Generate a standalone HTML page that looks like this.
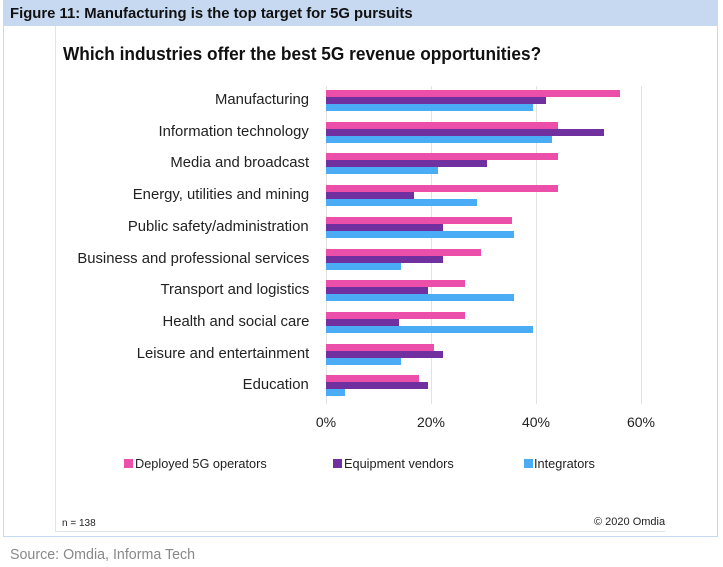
<!DOCTYPE html><html><head><style>
body{margin:0;width:723px;height:567px;background:#fff;font-family:"Liberation Sans",sans-serif;position:relative;overflow:hidden}
.a{position:absolute}
.lbl{position:absolute;right:414px;font-size:15px;color:#222;white-space:nowrap;transform:scaleX(0.99);transform-origin:right}
.b{position:absolute;left:326px;height:7px}
.p{background:#EC4FA9}.u{background:#7030A0}.c{background:#4BACF6}
.g{position:absolute;top:86px;height:318px;width:1px;background:#e2e2e2}
.t{position:absolute;top:414px;font-size:14px;color:#222;width:60px;text-align:center}
</style></head><body>
<div class="a" style="left:3px;top:0;width:715px;height:537px;border:1px solid #c5d9f1;border-top:none;box-sizing:border-box"></div>
<div class="a" style="left:3px;top:0;width:715px;height:26px;background:#c6d9f1"></div>
<div class="a" style="left:10px;top:5px;font-size:15px;font-weight:bold;color:#111;transform:scaleX(0.99);transform-origin:left">Figure 11: Manufacturing is the top target for 5G pursuits</div>
<div class="a" style="left:55px;top:26px;width:1px;height:506px;background:#dde6f0"></div>
<div class="a" style="left:55px;top:531px;width:610px;height:1px;background:#dde6f0"></div>
<div class="a" style="left:63px;top:44px;font-size:18px;font-weight:bold;color:#111;transform:scaleX(0.96);transform-origin:left">Which industries offer the best 5G revenue opportunities?</div>
<div class="g" style="left:326px"></div><div class="g" style="left:431px"></div><div class="g" style="left:536px"></div><div class="g" style="left:641px"></div>
<div class="t" style="left:296px">0%</div><div class="t" style="left:401px">20%</div><div class="t" style="left:506px">40%</div><div class="t" style="left:611px">60%</div>
<div id="bars"></div>
<script>
var d=[["Manufacturing",620,546,533],["Information technology",558,604,552],["Media and broadcast",558,487,438],["Energy, utilities and mining",558,414,477],["Public safety/administration",512,443,514],["Business and professional services",481,443,401],["Transport and logistics",465,428,514],["Health and social care",465,399,533],["Leisure and entertainment",434,443,401],["Education",419,428,345]];
var h="";d.forEach(function(r,i){var y=90+i*31.7;
h+='<div class="lbl" style="top:'+(y+1)+'px">'+r[0]+'</div>';
h+='<div class="b p" style="top:'+y+'px;width:'+(r[1]-326)+'px"></div>';
h+='<div class="b u" style="top:'+(y+7)+'px;width:'+(r[2]-326)+'px"></div>';
h+='<div class="b c" style="top:'+(y+14)+'px;width:'+(r[3]-326)+'px"></div>';});
document.getElementById("bars").innerHTML=h;
</script>
<div class="a" style="left:124px;top:459px;width:9px;height:9px;background:#EC4FA9"></div>
<div class="a" style="left:135px;top:456px;font-size:13px;color:#222;transform:scaleX(0.98);transform-origin:left">Deployed 5G operators</div>
<div class="a" style="left:333px;top:459px;width:9px;height:9px;background:#7030A0"></div>
<div class="a" style="left:344px;top:456px;font-size:13px;color:#222;transform:scaleX(0.98);transform-origin:left">Equipment vendors</div>
<div class="a" style="left:524px;top:459px;width:9px;height:9px;background:#4BACF6"></div>
<div class="a" style="left:534px;top:456px;font-size:13px;color:#222;transform:scaleX(0.98);transform-origin:left">Integrators</div>
<div class="a" style="left:62px;top:518px;font-size:10px;color:#222">n = 138</div>
<div class="a" style="left:594px;top:516px;font-size:11px;color:#222">© 2020 Omdia</div>
<div class="a" style="left:10px;top:546px;font-size:15px;color:#888;transform:scaleX(0.95);transform-origin:left">Source: Omdia, Informa Tech</div>
</body></html>
